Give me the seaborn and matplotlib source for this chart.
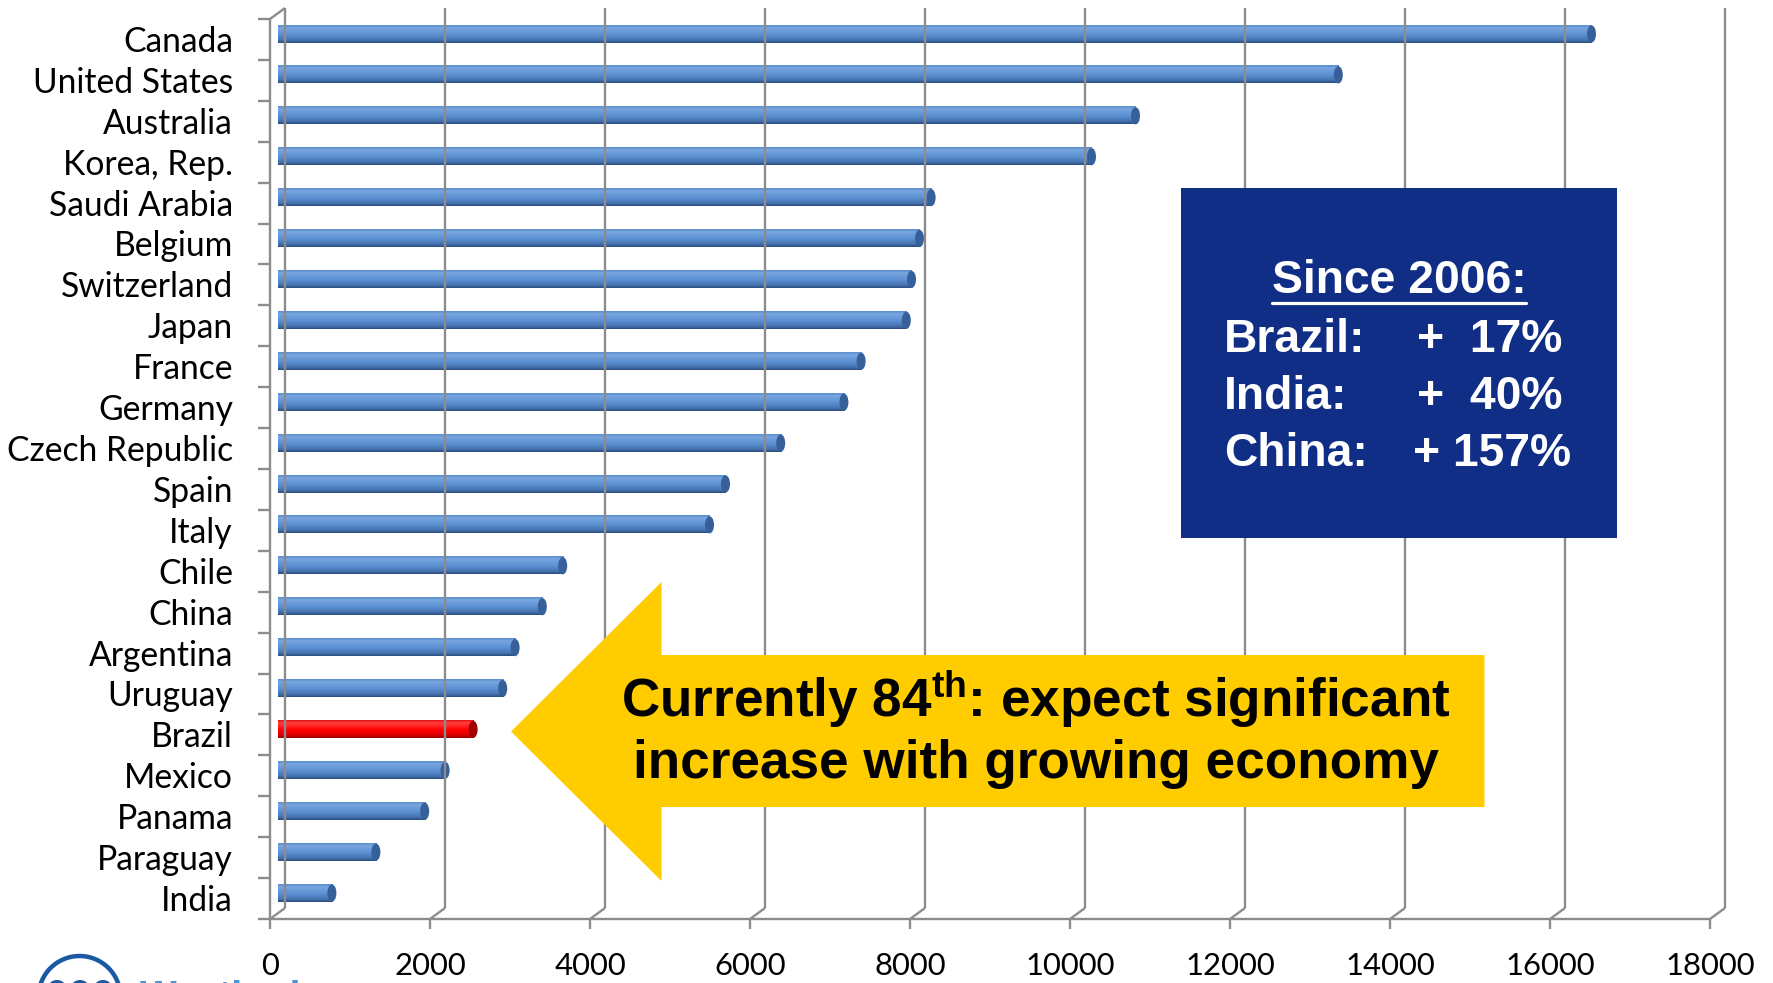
import numpy as np
import pandas as pd
import matplotlib
matplotlib.use("Agg")
import matplotlib.pyplot as plt
import seaborn as sns
from matplotlib.patches import Rectangle, Polygon, Ellipse, Circle
from matplotlib.lines import Line2D
from matplotlib.transforms import IdentityTransform
from matplotlib.colors import LinearSegmentedColormap

# ---------------- data ----------------
countries = ["Canada", "United States", "Australia", "Korea, Rep.", "Saudi Arabia",
             "Belgium", "Switzerland", "Japan", "France", "Germany", "Czech Republic",
             "Spain", "Italy", "Chile", "China", "Argentina", "Uruguay", "Brazil",
             "Mexico", "Panama", "Paraguay", "India"]
values = [16425, 13260, 10725, 10175, 8170, 8025, 7925, 7860, 7295, 7080, 6290,
          5600, 5400, 3565, 3310, 2970, 2815, 2445, 2095, 1840, 1230, 680]
highlight = "Brazil"
x_ticks = [0, 2000, 4000, 6000, 8000, 10000, 12000, 14000, 16000, 18000]
x_tick_labels = [str(t) for t in x_ticks]
box_title = "Since 2006:"
box_names = ["Brazil:", "India:", "China:"]
box_changes = ["+  17%", "+  40%", "+ 157%"]
arrow_lines = [r"Currently 84$^{\mathbf{th}}$: expect significant",
               "increase with growing economy"]
logo_text = "Westinghouse"

# ---------------- style ----------------
sns.set_theme(style="white")
plt.rcParams["font.family"] = ["Lato", "DejaVu Sans"]
plt.rcParams["mathtext.fontset"] = "custom"
plt.rcParams["mathtext.rm"] = "Liberation Sans:bold"
plt.rcParams["mathtext.bf"] = "Liberation Sans:bold"
plt.rcParams["mathtext.it"] = "Liberation Sans:bold"

W, H = 1773, 983
fig = plt.figure(figsize=(W / 100, H / 100), dpi=100)
fig.patch.set_facecolor("white")
renderer = fig.canvas.get_renderer()

GRID = "#8C8C8C"
LW = 1.7
DX, DY = 7.5, 5.5   # half depth of the 3-D box in pixels

# middle plane of the 3-D chart
ax = fig.add_axes([277.5 / W, (H - 913.5) / H, 1440 / W, 900 / H])
n = len(countries)
df = pd.DataFrame({"country": countries, "value": values})
palette = {c: ("#FF0000" if c == highlight else "#4F81BD") for c in countries}
sns.barplot(data=df, y="country", x="value", hue="country", palette=palette,
            orient="h", width=0.42, dodge=False, legend=False, ax=ax, saturation=1)

# cylinder-like shading of the bars
blue_cmap = LinearSegmentedColormap.from_list(
    "b", [(0, "#5A8BCB"), (0.15, "#78A6E0"), (0.55, "#5B8FD2"), (0.85, "#4572AE"), (1, "#2A4C7C")])
red_cmap = LinearSegmentedColormap.from_list(
    "r", [(0, "#E01010"), (0.15, "#FF4040"), (0.55, "#FF0000"), (0.85, "#D80000"), (1, "#9A0000")])
grad = np.linspace(0, 1, 64).reshape(-1, 1)
px_per_unit = 1440 / 18000.0
for patch, c in zip(ax.patches, countries):
    x0, y0 = patch.get_x(), patch.get_y()
    w, h = patch.get_width(), patch.get_height()
    cmap = red_cmap if c == highlight else blue_cmap
    ax.imshow(grad, cmap=cmap, aspect="auto", extent=[x0, x0 + w, y0 + h, y0],
              origin="upper", zorder=3, interpolation="bilinear")
    patch.set_alpha(0)
    cap_w = 9 / px_per_unit
    capc = "#A00000" if c == highlight else "#35609A"
    ax.add_patch(Ellipse((x0 + w, y0 + h / 2), cap_w, h, facecolor=capc,
                         edgecolor="none", zorder=4))
    ax.add_patch(Ellipse((x0, y0 + h / 2), cap_w, h, facecolor=cmap(0.5),
                         edgecolor="none", zorder=2.9))

ax.set_xlim(0, 18000)
ax.set_ylim(n - 0.5, -0.5)
ax.axis("off")


def pix(x, y, dx=0.0, dy=0.0):
    p = ax.transData.transform((x, y))
    return p[0] + dx, p[1] + dy


def seg(p, q, **kw):
    ln = Line2D([p[0], q[0]], [p[1], q[1]], transform=IdentityTransform(),
                color=GRID, lw=LW, solid_capstyle="butt", **kw)
    fig.add_artist(ln)


# back wall gridlines
for t in x_ticks:
    seg(pix(t, -0.5, DX, DY), pix(t, n - 0.5, DX, DY), zorder=0.5)
    # floor diagonals
    seg(pix(t, n - 0.5, -DX, -DY), pix(t, n - 0.5, DX, DY), zorder=0.5)
    # ticks on the front bottom edge
    seg(pix(t, n - 0.5, -DX, -DY), pix(t, n - 0.5, -DX, -DY - 10), zorder=0.5)
# front bottom edge
seg(pix(0, n - 0.5, -DX, -DY), pix(18000, n - 0.5, -DX, -DY), zorder=0.5)
# front left edge, top diagonal
seg(pix(0, -0.5, -DX, -DY), pix(0, n - 0.5, -DX, -DY), zorder=0.5)
seg(pix(0, -0.5, -DX, -DY), pix(0, -0.5, DX, DY), zorder=0.5)
# y ticks at category boundaries
for k in range(n + 1):
    p = pix(0, k - 0.5, -DX, -DY)
    seg(p, (p[0] - 12, p[1]), zorder=0.5)


def fit(text, target_w, **kw):
    t = fig.text(0, 0, text, fontsize=100, **kw)
    w = t.get_window_extent(renderer).width
    t.remove()
    return 100 * target_w / w


# category labels
ylab_fs = fit("Czech Republic", 226, family=["Lato", "DejaVu Sans"])
for i, c in enumerate(countries):
    px, py = pix(0, i, -DX, -DY)
    fig.text((px - 37) / W, (py - 12.5) / H, c, ha="right", va="baseline",
             fontsize=ylab_fs, color="black", family=["Lato", "DejaVu Sans"])

# x tick labels
xlab_fs = fit("14000", 90, family=["Lato", "DejaVu Sans"])
for t, lab in zip(x_ticks, x_tick_labels):
    px, py = pix(t, n - 0.5, -DX, -DY)
    fig.text(px / W, (py - 56) / H, lab, ha="center", va="baseline",
             fontsize=xlab_fs, color="black", family=["Lato", "DejaVu Sans"])

# ---------------- navy info box ----------------
BF = ["Liberation Sans", "DejaVu Sans"]
fig.add_artist(Rectangle((1181 / W, 1 - 538 / H), (1617 - 1181) / W, (538 - 188) / H,
                         transform=fig.transFigure, facecolor="#102E86",
                         edgecolor="none", zorder=5))
box_fs = fit("China:", 144, family=BF, weight="bold")
tt = fig.text(1399 / W, 1 - 293 / H, box_title, ha="center", va="baseline",
              fontsize=box_fs, weight="bold", color="white", family=BF, zorder=6)
bb = tt.get_window_extent(renderer)
fig.add_artist(Line2D([bb.x0, bb.x1], [H - 303, H - 303], transform=IdentityTransform(),
                      color="white", lw=2.3, zorder=6))
change_x = [1417, 1417, 1413]
for k, (nm, ch) in enumerate(zip(box_names, box_changes)):
    yb = 352 + 57 * k
    fig.text(1224 / W, 1 - yb / H, nm, ha="left", va="baseline", fontsize=box_fs,
             weight="bold", color="white", family=BF, zorder=6)
    fig.text(change_x[k] / W, 1 - yb / H, ch, ha="left", va="baseline", fontsize=box_fs,
             weight="bold", color="white", family=BF, zorder=6)

# ---------------- yellow arrow ----------------
arrow_pts = [(511, 731.5), (661.5, 582), (661.5, 655), (1484.5, 655),
             (1484.5, 807), (661.5, 807), (661.5, 881)]
fig.add_artist(Polygon([(x / W, 1 - y / H) for x, y in arrow_pts], closed=True,
                       transform=fig.transFigure, facecolor="#FFCC00",
                       edgecolor="none", zorder=5))
arr_fs = fit(arrow_lines[1], 806, family=BF, weight="bold")
for k, line in enumerate(arrow_lines):
    fig.text(1036 / W, 1 - (717 + 61 * k) / H, line, ha="center", va="baseline",
             fontsize=arr_fs, weight="bold", color="black", family=BF, zorder=6)

# ---------------- partly visible logo ----------------
fig.add_artist(Circle((79.5, H - 997), 41, transform=IdentityTransform(),
                      facecolor="none", edgecolor="#1B58A5", lw=3.2, zorder=6))
for cx in (57, 80, 103):
    fig.add_artist(Circle((cx, H - 990), 10, transform=IdentityTransform(),
                          facecolor="#1B58A5", edgecolor="none", zorder=6))
fig.text(140 / W, 1 - 980 / H, logo_text, ha="left", va="top", fontsize=28,
         weight="bold", color="#4A93D6", family=BF, zorder=6)

fig.savefig("out.png", dpi=100, facecolor="white")
